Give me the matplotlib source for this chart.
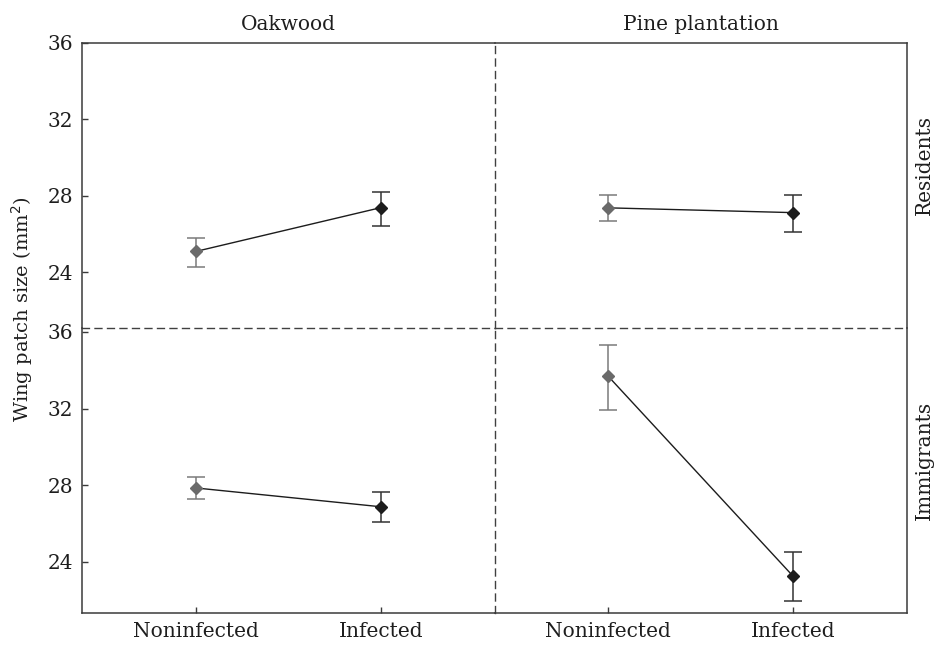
import matplotlib
matplotlib.use("Agg")
from matplotlib import pyplot as plt

plt.rcParams['font.family'] = ['DejaVu Serif']

groups = ["Noninfected", "Infected"]
habitats = ["Oakwood", "Pine plantation"]
statuses = ["Residents", "Immigrants"]

# means and lower / upper ends of the error bars
res_oak = [25.08, 27.37]
res_oak_lo = [24.29, 26.42]
res_oak_hi = [25.78, 28.21]

res_pine = [27.36, 27.11]
res_pine_lo = [26.66, 26.09]
res_pine_hi = [28.04, 28.04]

imm_oak = [27.86, 26.88]
imm_oak_lo = [27.27, 26.07]
imm_oak_hi = [28.44, 27.66]

imm_pine = [33.68, 23.25]
imm_pine_lo = [31.93, 21.98]
imm_pine_hi = [35.33, 24.50]

yticks = [24, 28, 32, 36]

panels = [[(res_oak, res_oak_lo, res_oak_hi), (res_pine, res_pine_lo, res_pine_hi)],
          [(imm_oak, imm_oak_lo, imm_oak_hi), (imm_pine, imm_pine_lo, imm_pine_hi)]]

point_colors = ["#6a6a6a", "#1c1c1c"]
bar_colors = ["#7a7a7a", "#333333"]
spine_col = "#3a3a3a"
dash = (0, (5, 4))

fig, axes = plt.subplots(2, 2, figsize=(9.37, 6.45), dpi=100)
fig.subplots_adjust(left=0.0875, right=0.968, top=0.934, bottom=0.049,
                    hspace=0, wspace=0)

x = list(range(len(groups)))

for r in range(2):
    for c in range(2):
        ax = axes[r][c]
        ax.patch.set_visible(False)
        means, lo, hi = panels[r][c]
        ax.plot(x, means, color="#1c1c1c", lw=1.0, zorder=2)
        for i in x:
            ax.errorbar(i, means[i], yerr=[[means[i] - lo[i]], [hi[i] - means[i]]],
                        fmt='D', ms=6.5, color=point_colors[i], ecolor=bar_colors[i],
                        elinewidth=1.1, capsize=6.5, capthick=1.1, zorder=3)
        ax.set_xlim(-0.615, 1.615)
        if r == 0:
            ax.set_ylim(21.08, 36.0)
        else:
            ax.set_ylim(21.32, 36.2)
        ax.set_yticks(yticks)
        ax.set_xticks(x)
        ax.set_xticklabels(groups)
        ax.tick_params(direction='in', length=4.5, width=1.0, color=spine_col,
                       labelsize=14.5, pad=6.5, labelcolor="#1e1e1e")
        for s in ax.spines.values():
            s.set_color(spine_col)
            s.set_linewidth(1.1)
        if r == 0:
            ax.spines['bottom'].set_linestyle(dash)
            ax.spines['bottom'].set_linewidth(1.0)
            ax.spines['bottom'].set_color("#404040")
            ax.tick_params(axis='x', bottom=False, labelbottom=False)
            ax.set_title(habitats[c], fontsize=14.5, pad=9, color="#1e1e1e")
        else:
            ax.spines['top'].set_visible(False)
        if c == 0:
            ax.spines['right'].set_linestyle(dash)
            ax.spines['right'].set_linewidth(1.0)
            ax.spines['right'].set_color("#404040")
        else:
            ax.spines['left'].set_visible(False)
            ax.tick_params(axis='y', left=False, labelleft=False)
            ax.text(1.02, [0.57, 0.535][r], statuses[r], transform=ax.transAxes,
                    rotation=90, ha='left', va='center', fontsize=14.5, color="#1e1e1e")

fig.text(0.024, 0.52, "Wing patch size (mm$^2$)", rotation=90, ha='center', va='center',
         fontsize=14, color="#1e1e1e")

plt.savefig('out.png', dpi=100, facecolor='white')
